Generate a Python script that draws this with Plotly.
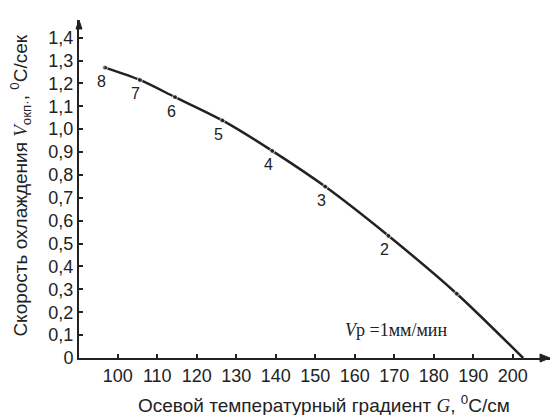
import plotly.graph_objects as go

# Data
G = [96.8, 105.6, 114.5, 126.5, 139.1, 152.5, 168.5, 185.8, 202.6]
V = [1.269, 1.215, 1.140, 1.038, 0.905, 0.749, 0.534, 0.281, 0.0]
point_labels = ["8", "7", "6", "5", "4", "3", "2", "", ""]
marker_sizes = [5, 5, 5, 5, 5, 5, 5, 5, 0]

x_ticks = [100, 110, 120, 130, 140, 150, 160, 170, 180, 190, 200]
x_ticktext = [str(v) for v in x_ticks]
y_ticks = [0, 0.1, 0.2, 0.3, 0.4, 0.5, 0.6, 0.7, 0.8, 0.9, 1.0, 1.1, 1.2, 1.3, 1.4]
y_ticktext = ["0"] + [f"{v:.1f}".replace(".", ",") for v in y_ticks[1:]]

FONT = "Liberation Sans, Arial, sans-serif"
SERIF = "Liberation Serif, Times New Roman, serif"
INK = "#222222"

fig = go.Figure()
fig.add_trace(go.Scatter(
    x=G, y=V,
    mode="lines+markers",
    line=dict(color=INK, width=2.5, shape="spline", smoothing=0.8),
    marker=dict(color=INK, size=marker_sizes),
    cliponaxis=False,
    showlegend=False,
    hoverinfo="x+y",
))

# point numbers
for gx, vy, lab in zip(G, V, point_labels):
    if lab:
        fig.add_annotation(
            x=gx, y=vy, text=lab, showarrow=False,
            xshift=-4, yshift=-14,
            font=dict(family=FONT, size=16, color=INK),
        )

fig.update_layout(
    width=554, height=415,
    margin=dict(l=79, r=4, t=20, b=57),
    paper_bgcolor="white", plot_bgcolor="white",
    font=dict(family=FONT, color=INK, size=17),
    xaxis=dict(
        range=[90.2, 209.4], tickvals=x_ticks, ticktext=x_ticktext,
        showgrid=False, zeroline=False, showline=True, linecolor=INK, linewidth=2,
        ticks="inside", ticklen=4, tickcolor=INK, tickwidth=1.5,
        tickfont=dict(family=FONT, size=18, color=INK),
    ),
    yaxis=dict(
        range=[0, 1.477], tickvals=y_ticks, ticktext=y_ticktext,
        showgrid=False, zeroline=False, showline=True, linecolor=INK, linewidth=2,
        ticks="inside", ticklen=4, tickcolor=INK, tickwidth=1.5,
        tickfont=dict(family=FONT, size=18, color=INK),
    ),
)

# axis titles
fig.add_annotation(
    xref="paper", yref="paper", x=0.52, y=0, yshift=-46, yanchor="middle",
    showarrow=False,
    text=f"Осевой температурный градиент <span style='font-family:{SERIF}'><i>G</i></span>, <sup>0</sup>C/см",
    font=dict(family=FONT, size=19, color=INK),
)
fig.add_annotation(
    xref="paper", yref="paper", x=0, xshift=-58, y=0.51, textangle=-90,
    xanchor="center", yanchor="middle", showarrow=False,
    text=f"Скорость охлаждения <span style='font-family:{SERIF}'><i>V</i></span><sub>окп·</sub>, <sup>0</sup>C/сек",
    font=dict(family=FONT, size=19, color=INK),
)
# condition note
fig.add_annotation(
    x=170.5, y=0.124, showarrow=False,
    text="<i>V</i>p =1мм/мин",
    font=dict(family=SERIF, size=18, color=INK),
)
# axis arrowheads as small triangles
fig.add_shape(type="path", xref="paper", yref="paper",
              xsizemode="pixel", ysizemode="pixel", xanchor=1, yanchor=0,
              path="M -10 -4 L 0 0 L -10 4 Z",
              fillcolor=INK, line=dict(color=INK, width=1))
fig.add_shape(type="path", xref="paper", yref="paper",
              xsizemode="pixel", ysizemode="pixel", xanchor=0, yanchor=1,
              path="M -3 -9 L 0 0 L 3 -9 Z",
              fillcolor=INK, line=dict(color=INK, width=1))

fig.write_html(
    "out.html",
    config={"displayModeBar": False},
    post_script="document.body.style.margin='0';document.body.style.overflow='hidden';",
)
